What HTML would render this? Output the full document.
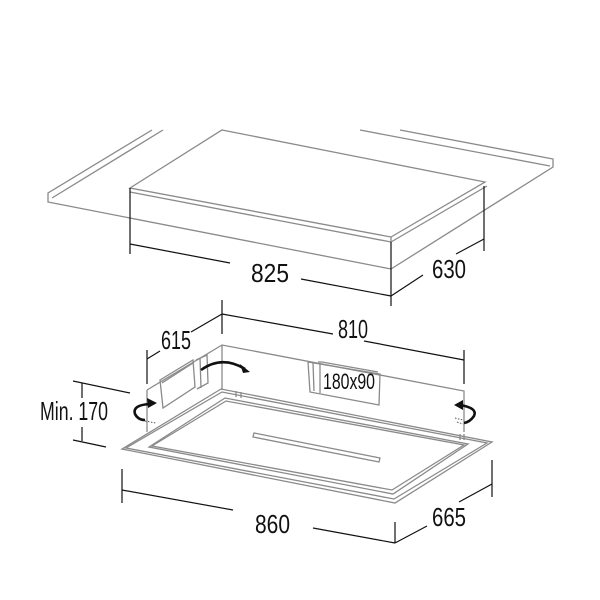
<!DOCTYPE html>
<html><head><meta charset="utf-8"><style>
html,body{margin:0;padding:0;background:#fff;}
svg{display:block}
text{font-family:"Liberation Sans Narrow","Liberation Sans",sans-serif;fill:#111;}
</style></head><body>
<svg width="600" height="600" viewBox="0 0 600 600" xmlns="http://www.w3.org/2000/svg">
<g fill="none" stroke="#8a8a8a" stroke-width="1.3">
<!-- ceiling -->
<path d="M152,130 L48,193 L48,202 L391,269 L553,167 L553,159 L400,130"/>
<path d="M163,130 L52,198"/>
<path d="M360,130 L550,166"/>
<!-- hood top -->
<path d="M222,130 L485,182 L391,237 L130,188 Z"/>
<path d="M130,192 L391,242 L487,186"/>
<path d="M391,237 L391,242"/>
</g>
<g fill="none" stroke="#111" stroke-width="1.2">
<path d="M130,188 L130,254"/>
<path d="M391,242 L391,306"/>
<path d="M484,186 L484,251"/>
<path d="M130,244 L230,263"/>
<path d="M301,279 L391,296"/>
<path d="M391,296 L423,275"/>
<path d="M456,254 L484,239"/>
</g>
<text x="251" y="282" font-size="26" textLength="38" lengthAdjust="spacingAndGlyphs">825</text>
<text x="432" y="278" font-size="26" textLength="34" lengthAdjust="spacingAndGlyphs">630</text>

<!-- bottom part -->
<g fill="none" stroke="#8a8a8a" stroke-width="1.3">
<path d="M147,390 L222,345 L464,391 L464,432"/>
<path d="M222,345 L222,390"/>
<path d="M147,390 L147,432"/>
<path d="M122,449 L221,389 L492,442 L395,503 Z"/>
<path d="M126,448 L222,392 L487,443 L394,499 Z"/>
<path d="M149,447 L225,398 L468,444 L393,494 Z"/>
<path d="M152,446 L226,401 L464,445 L392,490 Z"/>
<path d="M254,433 L380,458 L379,462 L253,437 Z"/>
<path d="M160,380 L193,360 L195,387 L163,408 Z"/>
<path d="M162,383 L193,363"/>
<path d="M196,360 L207,355 L208,383 L197,389"/>
<path d="M200,358 L201,388"/>
<path d="M308,362 L380,374 L379,405 L310,392 Z"/>
<path d="M318,362 L322,362 L378,372"/>
<path d="M313,363 L314,391"/>
<path d="M320,363 L320,393"/>
<path d="M460,434 L460,440 M464,434 L464,440"/>
<path d="M241,392 L241,398 M236,391 L236,397"/>
</g>
<g fill="none" stroke="#111" stroke-width="2.6">
<path d="M201,370 Q222,355 245,369"/>
<path d="M150,404 Q132,405 135,414 Q138,420 145,420"/>
<path d="M460,405 Q478,408 474,416 Q470,422 464,423"/>
</g>
<g fill="#111">
<path d="M250,372 L240,364 L243,373 Z"/>
<path d="M157,403 L147,398 L148,408 Z"/>
<path d="M454,405 L463,400 L463,410 Z"/>
</g>
<g fill="none" stroke="#555" stroke-width="1" stroke-dasharray="1.5,1.5">
<path d="M145,421 L156,423"/>
<path d="M455,418 L463,420 M457,422 L463,424"/>
</g>
<g fill="none" stroke="#111" stroke-width="1.2">
<path d="M147,350 L147,384"/>
<path d="M222,300 L222,334"/>
<path d="M147,359 L160,351"/>
<path d="M191,332 L222,314"/>
<path d="M222,314 L333,334"/>
<path d="M364,341 L464,360"/>
<path d="M464,350 L464,384"/>
<path d="M73,381 L130,393"/>
<path d="M73,440 L106,447"/>
<path d="M82,383 L82,398"/>
<path d="M82,427 L82,441"/>
<path d="M122,469 L122,503"/>
<path d="M122,490 L233,510"/>
<path d="M313,528 L395,543"/>
<path d="M395,522 L395,543"/>
<path d="M395,543 L427,526"/>
<path d="M459,502 L492,484"/>
<path d="M492,460 L492,497"/>
</g>
<text x="161" y="349" font-size="26" textLength="30" lengthAdjust="spacingAndGlyphs">615</text>
<text x="338" y="338" font-size="26" textLength="30" lengthAdjust="spacingAndGlyphs">810</text>
<text x="323" y="389" font-size="22" textLength="52" lengthAdjust="spacingAndGlyphs">180x90</text>
<text x="40" y="420" font-size="26" textLength="68" lengthAdjust="spacingAndGlyphs">Min. 170</text>
<text x="255" y="533" font-size="26" textLength="35" lengthAdjust="spacingAndGlyphs">860</text>
<text x="432" y="526" font-size="26" textLength="34" lengthAdjust="spacingAndGlyphs">665</text>
</svg>
</body></html>
